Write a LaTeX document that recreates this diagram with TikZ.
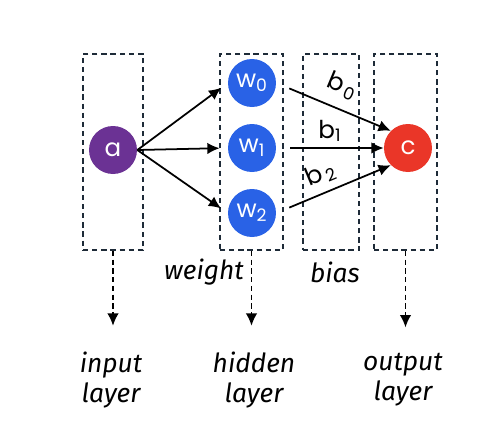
\documentclass[tikz,border=0pt]{standalone}
\usepackage{fontspec}
\setmainfont{Poppins}
\newfontfamily\layerfont{Fira Sans}
\usepackage{tikz}
\usetikzlibrary{arrows,arrows.meta}
\definecolor{apurple}{HTML}{6B3294}
\definecolor{wblue}{HTML}{2962E6}
\definecolor{cred}{HTML}{EA3628}
\definecolor{boxgray}{HTML}{1E2B38}

\begin{document}
\begin{tikzpicture}[x=0.02cm,y=-0.02cm,>={Latex[length=7pt,width=6.5pt]},
 unit/.style={circle,minimum size=0.96cm,inner sep=0pt,text=white,font=\fontsize{14}{16}\selectfont},
 layerbox/.style={draw=boxgray,line width=0.85pt,dash pattern=on 3pt off 2.2pt,minimum height=3.92cm,inner sep=0pt},
 caption/.style={font=\layerfont\itshape\fontsize{15}{17}\selectfont,align=center},
 blab/.style={font=\fontsize{14}{16}\selectfont,inner sep=1pt}]
 \useasboundingbox (0,0) rectangle (498,444);
 % layer frames
 \node[layerbox,minimum width=1.2cm] (inbox) at (113,152) {};
 \node[layerbox,minimum width=1.26cm] (hidbox) at (251.5,152) {};
 \node[layerbox,minimum width=1.13cm] (biasbox) at (331,152) {};
 \node[layerbox,minimum width=1.26cm] (outbox) at (405.5,152) {};
 % units
 \node[unit,fill=apurple] (a) at (113,150) {a};
 \node[unit,fill=wblue] (w0) at (252,83) {w\textsubscript{0}};
 \node[unit,fill=wblue] (w1) at (252,148) {w\textsubscript{1}};
 \node[unit,fill=wblue] (w2) at (252,213) {w\textsubscript{2}};
 \node[unit,fill=cred] (c) at (408,148) {c};
 \foreach \i in {0,1,2}
  \draw[->,line width=1pt,shorten >=0.16cm] (a.east) -- (w\i.west);
 \draw[->,line width=1pt,shorten <=0.28cm] (w0.east) -- node[blab,above=5pt,sloped] {b\kern1.5pt\textsubscript{0}} (c.135);
 \draw[->,line width=1pt,shorten <=0.28cm] (w1.east) -- node[blab,above=2pt] {b\textsubscript{1}} (c.west);
 \draw[->,line width=1pt,shorten <=0.28cm] (w2.east) -- node[blab,above=3pt,sloped,pos=0.45] {b\kern1.5pt\textsubscript{2}} (c.225);
 % captions
 \node[caption] (wlab) at (204,272) {weight};
 \node[caption] (blab) at (335,272) {bias};
 \node[caption] (inlab) at (111,380) {input\\layer};
 \node[caption] (hidlab) at (254,380) {hidden\\layer};
 \node[caption] (outlab) at (403,380) {output\\layer};
 \draw[->,line width=1pt,densely dashed,shorten >=0.4cm] (inbox.south) -- (inbox.south |- inlab.north);
 \draw[->,line width=1pt,densely dashed,shorten >=0.4cm] (hidbox.south) -- (hidbox.south |- hidlab.north);
 \draw[->,line width=1pt,densely dashed,shorten >=0.4cm] (outbox.south) -- (outbox.south |- outlab.north);
\end{tikzpicture}
\end{document}
